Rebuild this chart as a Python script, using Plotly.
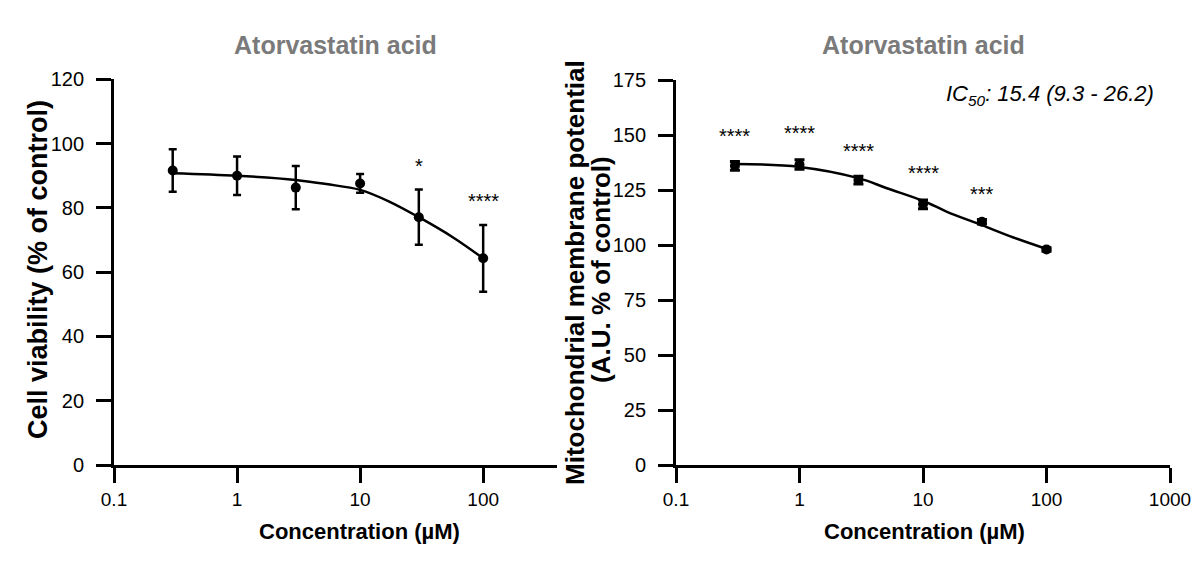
import numpy as np
import plotly.graph_objects as go

# ---------------- data ----------------
conc = [0.3, 1, 3, 10, 30, 100]

# Left panel: cell viability
via_mean = [91.6, 90.0, 86.3, 87.6, 77.1, 64.3]
via_err = [6.6, 6.0, 6.7, 2.9, 8.6, 10.4]
via_fit_x = [0.3, 1, 3, 5.3, 10, 17.4, 30, 57, 100]
via_fit_y = [90.8, 90.0, 88.7, 87.4, 85.6, 81.9, 77.1, 70.8, 64.3]
via_sig_x = [30, 100]
via_sig_y = [93, 82]
via_sig_txt = ["*", "****"]

# Right panel: mitochondrial membrane potential
mmp_mean = [136.0, 136.6, 129.5, 118.5, 110.6, 98.0]
mmp_err = [2.0, 2.2, 1.8, 2.0, 1.0, 0.8]
mmp_fit_x = [0.3, 1, 3, 5.1, 10, 15.5, 30, 54, 100]
mmp_fit_y = [136.8, 135.5, 130.4, 125.8, 120.1, 115.2, 109.0, 103.4, 98.2]
mmp_sig_x = [0.3, 1, 3, 10, 30]
mmp_sig_y = [149.5, 150.8, 142.6, 132.6, 123.2]
mmp_sig_txt = ["****", "****", "****", "****", "***"]

via_ticks = [0, 20, 40, 60, 80, 100, 120]
mmp_ticks = [0, 25, 50, 75, 100, 125, 150, 175]
left_xticks = [0.1, 1, 10, 100]
right_xticks = [0.1, 1, 10, 100, 1000]

title_txt = "Atorvastatin acid"
xlab = "Concentration (µM)"
ylab_left = "Cell viability (% of control)"
ylab_right1 = "Mitochondrial membrane potential"
ylab_right2 = "(A.U. % of control)"
ic50_txt = "IC<sub>50</sub>: 15.4 (9.3 - 26.2)"

# ---------------- figure ----------------
# page body has an 8px margin, so the figure is drawn 8px in from the window edge
OFF = 8
W, H = 1200 - 2 * OFF, 576 - 2 * OFF
FONT = "Liberation Sans, Arial, sans-serif"

def px(x):
    return (x - OFF) / W

def py(y):
    return 1 - (y - OFF) / H

fig = go.Figure()

# left panel
fig.add_trace(go.Scatter(x=via_fit_x, y=via_fit_y, mode="lines",
                         line=dict(color="black", width=2.5, shape="spline"),
                         xaxis="x", yaxis="y", showlegend=False, hoverinfo="skip"))
fig.add_trace(go.Scatter(x=conc, y=via_mean, mode="markers",
                         marker=dict(color="black", size=10),
                         error_y=dict(type="data", array=via_err, color="black",
                                      thickness=2.5, width=4),
                         xaxis="x", yaxis="y", showlegend=False))
# right panel
fig.add_trace(go.Scatter(x=mmp_fit_x, y=mmp_fit_y, mode="lines",
                         line=dict(color="black", width=2.5, shape="spline"),
                         xaxis="x2", yaxis="y2", showlegend=False, hoverinfo="skip"))
fig.add_trace(go.Scatter(x=conc, y=mmp_mean, mode="markers",
                         marker=dict(color="black", size=10),
                         error_y=dict(type="data", array=mmp_err, color="black",
                                      thickness=3, width=5),
                         xaxis="x2", yaxis="y2", showlegend=False))

axis_common = dict(showline=True, linecolor="black", linewidth=2.8,
                   ticks="outside", ticklen=15, tickwidth=2.8, tickcolor="black",
                   showgrid=False, zeroline=False, automargin=False)
xfont = dict(family=FONT, size=19, color="black")
yfont = dict(family=FONT, size=20, color="black")

fig.update_layout(
    width=W, height=H,
    margin=dict(l=0, r=0, t=0, b=0, pad=0, autoexpand=False),
    paper_bgcolor="white", plot_bgcolor="white",
    xaxis=dict(type="log", domain=[px(114), px(557)], range=[-1, 2.6],
               tickvals=left_xticks, ticktext=["0.1", "1", "10", "100"],
               anchor="y", tickfont=xfont, **axis_common),
    yaxis=dict(domain=[py(465), py(79.3)], range=[0, 120],
               tickvals=via_ticks, anchor="x", ticklabelstandoff=8,
               tickfont=yfont, **axis_common),
    xaxis2=dict(type="log", domain=[px(676), px(1170)], range=[-1, 3],
                tickvals=right_xticks, ticktext=["0.1", "1", "10", "100", "1000"],
                anchor="y2", tickfont=xfont, **axis_common),
    yaxis2=dict(domain=[py(465), py(80)], range=[0, 175],
                tickvals=mmp_ticks, anchor="x2", ticklabelstandoff=8,
                tickfont=yfont, **axis_common),
)

def label(text, x, y, size, color="black", angle=0, xanchor="center"):
    return dict(text=text, x=px(x), y=py(y), xref="paper", yref="paper",
                xanchor=xanchor, yanchor="middle", showarrow=False, textangle=angle,
                font=dict(family=FONT, size=size, color=color))

ann = []
# titles
for cx in (335, 923):
    ann.append(label(f"<b>{title_txt}</b>", cx, 45, 25, color="#7a7a7a"))
# x labels
for cx in (359, 924):
    ann.append(label(f"<b>{xlab}</b>", cx, 531, 22))
# y labels
ann.append(label(f"<b>{ylab_left}</b>", 38, 270, 27, angle=-90))
ann.append(label(f"<b>{ylab_right1}</b>", 575, 273, 26, angle=-90))
ann.append(label(f"<b>{ylab_right2}</b>", 601, 270, 26, angle=-90))
# IC50
ann.append(label(f"<i>{ic50_txt}</i>", 1156, 95, 22, xanchor="right"))
# significance stars
for xv, yv, t in zip(via_sig_x, via_sig_y, via_sig_txt):
    ann.append(dict(text=t, x=np.log10(xv), y=yv, xref="x", yref="y", showarrow=False,
                    xanchor="center", yanchor="middle",
                    font=dict(family=FONT, size=20, color="black")))
for xv, yv, t in zip(mmp_sig_x, mmp_sig_y, mmp_sig_txt):
    ann.append(dict(text=t, x=np.log10(xv), y=yv, xref="x2", yref="y2", showarrow=False,
                    xanchor="center", yanchor="middle",
                    font=dict(family=FONT, size=20, color="black")))

fig.update_layout(annotations=ann)
fig.write_html("out.html")
